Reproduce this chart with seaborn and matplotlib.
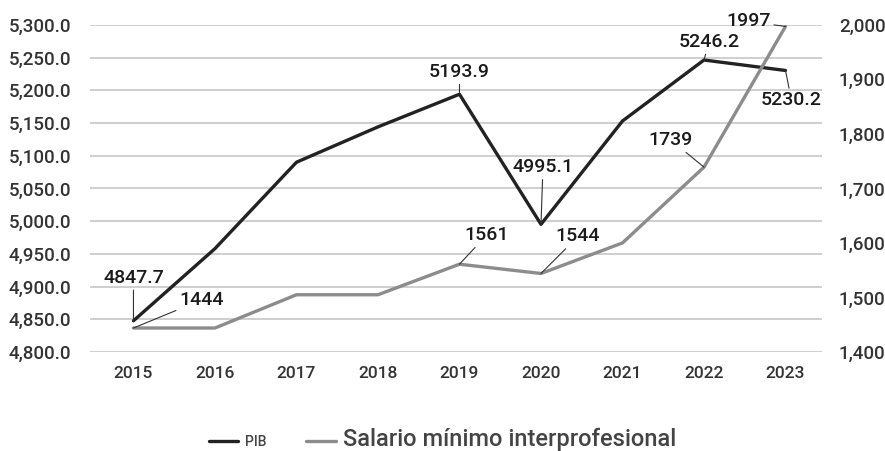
import matplotlib
matplotlib.use("Agg")
import matplotlib.pyplot as plt
import seaborn as sns
import pandas as pd
from matplotlib.lines import Line2D
from matplotlib.ticker import FuncFormatter, MultipleLocator

years = ["2015", "2016", "2017", "2018", "2019", "2020", "2021", "2022", "2023"]
pib = [4847.7, 4958.0, 5090.0, 5144.0, 5193.9, 4995.1, 5153.0, 5246.2, 5230.2]
smi = [1444, 1444, 1505, 1505, 1561, 1544, 1600, 1739, 1997]

pib_labels = {0: "4847.7", 4: "5193.9", 5: "4995.1", 7: "5246.2", 8: "5230.2"}
smi_labels = {0: "1444", 4: "1561", 5: "1544", 7: "1739", 8: "1997"}

sns.set_theme(style="white")
plt.rcParams['font.family'] = ['Roboto', 'DejaVu Sans']
plt.rcParams['font.weight'] = 'medium'

df = pd.DataFrame({"x": range(len(years)), "pib": pib, "smi": smi})

fig = plt.figure(figsize=(8.85, 4.51), dpi=100)
ax = fig.add_axes([0.102, 0.2195, 0.827, 0.7255])
ax2 = ax.twinx()

pib_color = "#222222"
smi_color = "#8c8c8c"
txt_color = "#333333"

sns.lineplot(data=df, x="x", y="pib", ax=ax, color=pib_color, lw=2.4, zorder=3)
sns.lineplot(data=df, x="x", y="smi", ax=ax2, color=smi_color, lw=2.4, zorder=3)

ax.set_xlim(-0.53, 8.45)
ax.set_ylim(4800, 5300)
ax2.set_ylim(1400, 2000)
ax.yaxis.set_major_locator(MultipleLocator(50))
ax2.yaxis.set_major_locator(MultipleLocator(100))
ax.yaxis.set_major_formatter(FuncFormatter(lambda v, p: f"{v:,.1f}"))
ax2.yaxis.set_major_formatter(FuncFormatter(lambda v, p: f"{v:,.0f}"))
ax.set_xticks(range(len(years)))
ax.set_xticklabels(years)
ax.grid(axis="y", color="#cccccc", lw=1.3)
ax.set_axisbelow(True)
for a in (ax, ax2):
    for s in a.spines.values():
        s.set_visible(False)
    a.set_xlabel("")
    a.set_ylabel("")
ax.tick_params(axis="y", length=0, pad=14, labelsize=13.5, labelcolor=txt_color)
ax.tick_params(axis="x", length=0, pad=10, labelsize=12.5, labelcolor=txt_color)
ax2.tick_params(axis="y", length=0, pad=12, labelsize=13.5, labelcolor=txt_color)

pib_off = {0: (0, 43), 4: (0, 22), 5: (2, 57), 7: (5, 18), 8: (6, -30)}
smi_off = {0: (68, 28), 4: (27, 29), 5: (37, 37), 7: (-33, 27), 8: (-37, 5)}

for i, lab in pib_labels.items():
    ax.annotate(lab, xy=(i, pib[i]), xytext=pib_off[i], textcoords="offset pixels",
                ha="center", va="center", fontsize=14, color="#1a1a1a",
                arrowprops=dict(arrowstyle="-", color="#333333", lw=0.8,
                                shrinkA=0, shrinkB=0), zorder=5)
for i, lab in smi_labels.items():
    ax2.annotate(lab, xy=(i, smi[i]), xytext=smi_off[i], textcoords="offset pixels",
                 ha="center", va="center", fontsize=14, color="#1a1a1a",
                 arrowprops=dict(arrowstyle="-", color="#333333", lw=0.8,
                                 shrinkA=0, shrinkB=0), zorder=5)

handles = [Line2D([0], [0], color=pib_color, lw=2.4),
           Line2D([0], [0], color=smi_color, lw=2.4)]
leg = fig.legend(handles, ["PIB", "Salario mínimo interprofesional"], loc="center",
                 bbox_to_anchor=(0.5, 0.025), ncol=2, frameon=False,
                 handlelength=1.9, handletextpad=0.5, columnspacing=2.6)
leg.get_texts()[0].set_fontsize(10)
leg.get_texts()[1].set_fontsize(17)
for t in leg.get_texts():
    t.set_color("#444444")

fig.savefig("out.png", dpi=100)
